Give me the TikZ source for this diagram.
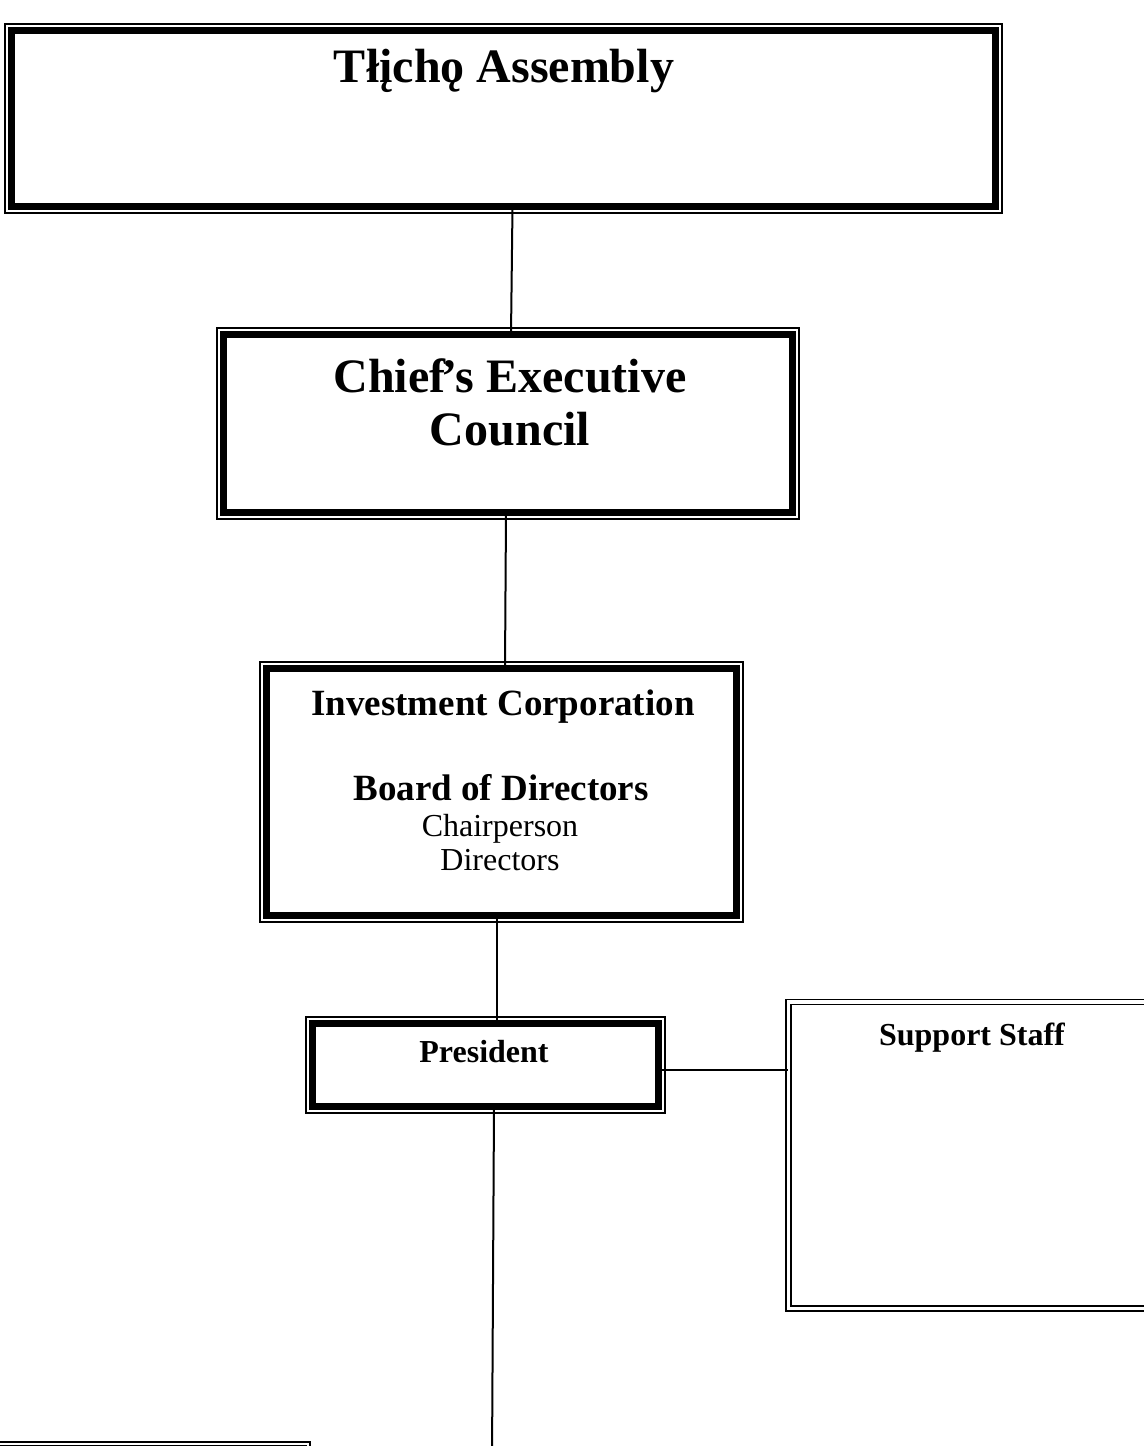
\documentclass[tikz,border=0pt]{standalone}
\usepackage{fontspec}
\setmainfont{Liberation Serif}

\begin{document}
\begin{tikzpicture}[x=0.5pt,y=-0.5pt,
    orgbox/.style={draw, line width=3.5pt, inner sep=0pt, outer sep=0pt},
    rim/.style={line width=0.9pt},
    staffbox/.style={draw, double, double distance=1.7pt, line width=0.8pt, inner sep=0pt, outer sep=0pt},
    link/.style={line width=1pt},
    bigtitle/.style={font=\fontsize{24}{26}\selectfont\bfseries, anchor=base},
    midtitle/.style={font=\fontsize{18.5}{21}\selectfont\bfseries, anchor=base},
    smalltitle/.style={font=\fontsize{16}{18}\selectfont\bfseries, anchor=base},
    plaintext/.style={font=\fontsize{16}{18}\selectfont, anchor=base}]
    \useasboundingbox (0,0) rectangle (1144,1446);
    \clip (0,0) rectangle (1144,1446);
    %Boxes
    \node[orgbox, minimum width=492pt, minimum height=88pt] (assembly) at (503.5,118.5) {};
    \node[orgbox, minimum width=284.5pt, minimum height=89pt] (council) at (508,423.5) {};
    \node[orgbox, minimum width=235pt, minimum height=123.5pt] (invest) at (501.5,792) {};
    \node[orgbox, minimum width=173pt, minimum height=41.5pt] (pres) at (485.5,1065) {};
    \node[orgbox, minimum width=166.75pt, minimum height=75.75pt] (lower) at (136.75,1524.25) {};
    \node[staffbox, minimum width=185.75pt, minimum height=153.25pt] (staff) at (974,1155.25) {};
    %Outer rims
    \foreach \n in {assembly,council,invest,pres,lower}
        \draw[rim] ([shift={(-3.3pt,3.3pt)}]\n.north west) rectangle ([shift={(3.3pt,-3.3pt)}]\n.south east);
    %Texts
    \node[bigtitle] (assemblytxt) at (504,82) {Tłįchǫ Assembly};
    \node[bigtitle] (counciltxt) at (510,392) {Chief\kern-0.08em’s Executive};
    \node[bigtitle] (counciltxt2) at (510,445) {Council};
    \node[midtitle] (investtxt) at (503,715) {Investment Corporation};
    \node[midtitle] (boardtxt) at (501,800) {Board of Directors};
    \node[plaintext] (chairtxt) at (500,836) {Chairperson};
    \node[plaintext] (dirtxt) at (500,870) {Directors};
    \node[smalltitle] (prestxt) at (484,1062) {President};
    \node[smalltitle] (stafftxt) at (972,1045) {Support Staff};
    %Links
    \coordinate (down) at (492,1460);
    \draw[link] ([xshift=4.5pt]assembly.south) -- ([xshift=1.5pt]council.north);
    \draw[link] ([xshift=-1pt]council.south) -- ([xshift=1.75pt]invest.north);
    \draw[link] ([xshift=-2.25pt]invest.south) -- ([xshift=5.75pt]pres.north);
    \draw[link] ([yshift=-2.5pt]pres.east) -- ([yshift=-2.5pt]pres.east -| staff.west);
    \draw[link] ([xshift=4.25pt]pres.south) -- (down);
\end{tikzpicture}
\end{document}
